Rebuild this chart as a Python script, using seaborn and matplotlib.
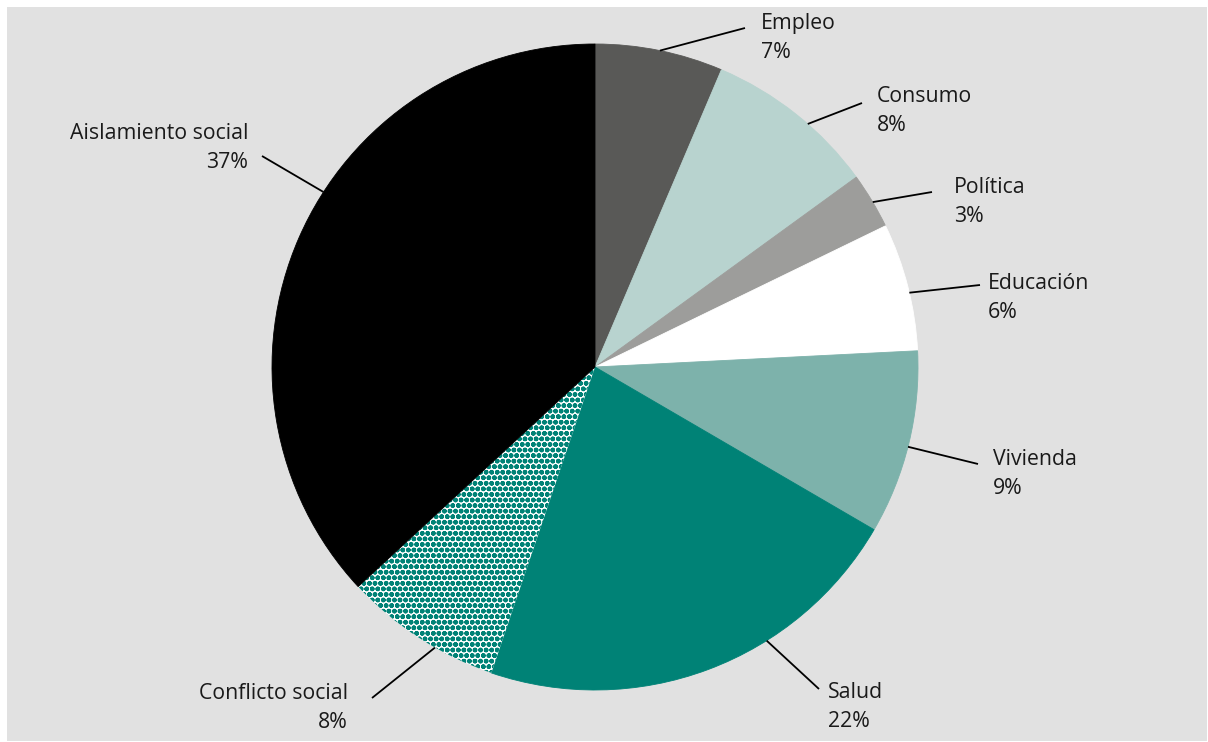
import numpy as np
import matplotlib
matplotlib.use("Agg")
import matplotlib.pyplot as plt
import matplotlib.patches as mpatches
import seaborn as sns

# shares (clockwise from 12 o'clock)
categories = ["Empleo", "Consumo", "Política", "Educación", "Vivienda",
              "Salud", "Conflicto social", "Aislamiento social"]
shares = [6.4, 8.6, 2.8, 6.4, 9.2, 21.8, 7.9, 36.9]
pct_labels = ["7%", "8%", "3%", "6%", "9%", "22%", "8%", "37%"]

colors = ["#595957", "#b8d3cf", "#9d9d9b", "#ffffff", "#7db2ab",
          "#008276", "#ffffff", "#000000"]
hatches = [None, None, None, None, None, None, "ooo...", None]

# label layout (pixels in the 1208x742 picture)
anchor_deg = [11.6, 41.2, 59.3, 76.7, 104.3, 147.9, 209.7, 302.8]
line_end = [(745, 28), (862, 103), (932, 192), (980, 285), (978, 464),
            (819, 689), (372, 698), (262, 156)]
text_pos = [(761, 29), (877, 102), (954, 193), (988, 289), (993, 465),
            (828, 698), (348, 699), (248, 139)]
text_ha = ["left"] * 6 + ["right", "right"]

W, H = 1208, 742
CX, CY, R = 595, 367, 323
TEAL = "#008276"


def px(x, y):
    return (x - CX) / R, (CY - y) / R


sns.set_theme(style="white")
plt.rcParams["font.family"] = ["Open Sans", "DejaVu Sans"]
plt.rcParams["hatch.linewidth"] = 1.7

fig = plt.figure(figsize=(W / 100, H / 100), dpi=100)
fig.patch.set_facecolor("white")
bg = mpatches.Rectangle((7 / W, 1 / H), (W - 8) / W, (H - 8) / H,
                        transform=fig.transFigure, facecolor="#e1e1e1",
                        edgecolor="none", zorder=-5)
fig.add_artist(bg)

ax = fig.add_axes([0, 0, 1, 1])
ax.set_facecolor("none")
ax.set_zorder(1)

wedges, _ = ax.pie(shares, colors=colors, startangle=90, counterclock=False,
                   radius=1, center=(0, 0),
                   wedgeprops=dict(linewidth=0.6))
for w, c, h in zip(wedges, colors, hatches):
    if h:
        w.set_hatch(h)
        w.set_edgecolor(TEAL)
        w.set_linewidth(0)
    else:
        w.set_edgecolor(c)

FS = 15.3
for i, name in enumerate(categories):
    t = np.deg2rad(anchor_deg[i])
    x0, y0 = np.sin(t), np.cos(t)
    x1, y1 = px(*line_end[i])
    ax.plot([x0, x1], [y0, y1], color="black", lw=1.3, solid_capstyle="butt")
    tx, ty = px(*text_pos[i])
    ax.text(tx, ty, name, ha=text_ha[i], va="baseline", fontsize=FS,
            color="#1a1a1a")
    tx2, ty2 = px(text_pos[i][0], text_pos[i][1] + 29)
    ax.text(tx2, ty2, pct_labels[i], ha=text_ha[i], va="baseline",
            fontsize=FS, color="#1a1a1a")

ax.set_xlim(-CX / R, (W - CX) / R)
ax.set_ylim(-(H - CY) / R, CY / R)
ax.set_aspect("auto")
ax.axis("off")

fig.savefig("out.png", dpi=100, facecolor=fig.get_facecolor())
